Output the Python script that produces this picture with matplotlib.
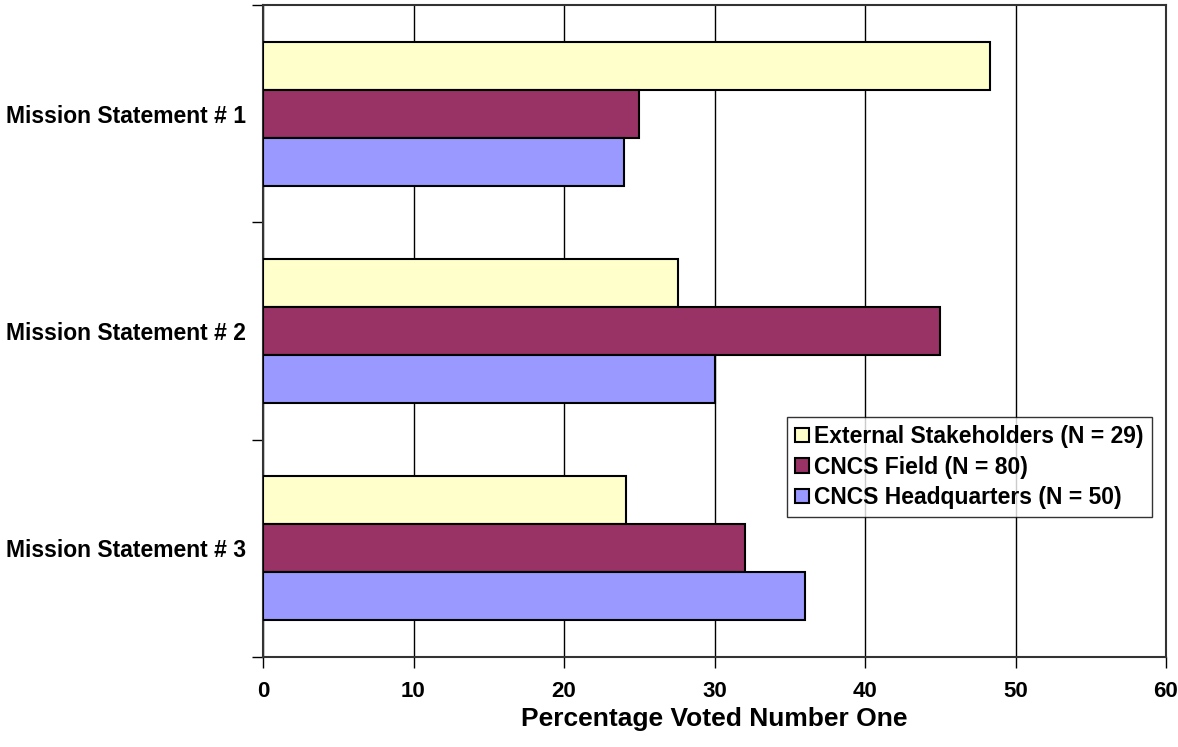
"""Percentage of respondents voting each mission statement number one, by group."""
import matplotlib
matplotlib.use('Agg')
import matplotlib.pyplot as plt
import numpy as np

plt.rcParams['font.family'] = ['Liberation Sans', 'DejaVu Sans']
plt.rcParams['font.weight'] = 'bold'

statements = ['Mission Statement # 1', 'Mission Statement # 2', 'Mission Statement # 3']
groups = ['External Stakeholders (N = 29)', 'CNCS Field (N = 80)', 'CNCS Headquarters (N = 50)']
external = [48.3, 27.6, 24.1]
field = [25.0, 45.0, 32.0]
headquarters = [24.0, 30.0, 36.0]
colors = ['#FFFFCC', '#993366', '#9999FF']

fig = plt.figure(figsize=(11.78, 7.47), dpi=100)
ax = fig.add_axes([263 / 1178, 1 - 657 / 747, (1166 - 263) / 1178, (657 - 5) / 747])

y = np.arange(len(statements))
h = 0.221
for i, (vals, name, c) in enumerate(zip([external, field, headquarters], groups, colors)):
    ax.barh(y + (i - 1) * h, vals, height=h, color=c, edgecolor='black',
            linewidth=1.5, label=name, zorder=3)

ax.set_xlim(0, 60)
ax.set_ylim(2.5, -0.5)
ax.set_xticks(range(0, 61, 10))
ax.tick_params(axis='x', labelsize=16, length=8, width=1, pad=9, direction='out')
ax.set_yticks(y)
ax.set_yticklabels(statements, fontsize=16.5)
ax.set_yticks([-0.5, 0.5, 1.5, 2.5], minor=True)
ax.tick_params(axis='y', which='major', length=0, pad=12)
ax.tick_params(axis='y', which='minor', length=8, width=1)
ax.grid(axis='x', color='black', linewidth=1, zorder=0)
for s in ax.spines.values():
    s.set_linewidth(1.5)
    s.set_color('#333333')

ax.set_xlabel('Percentage Voted Number One', fontsize=19, fontweight='bold', labelpad=4)

leg = ax.legend(loc='upper left', bbox_to_anchor=((787 - 263) / 903, 1 - (417 - 5) / 652),
                fontsize=16.5, frameon=True, fancybox=False, handlelength=0.6,
                handleheight=0.6, handletextpad=0.25, borderpad=0.35, labelspacing=0.33,
                borderaxespad=0)
leg.get_frame().set_edgecolor('black')
leg.get_frame().set_linewidth(1)

fig.savefig('out.png', dpi=100)
